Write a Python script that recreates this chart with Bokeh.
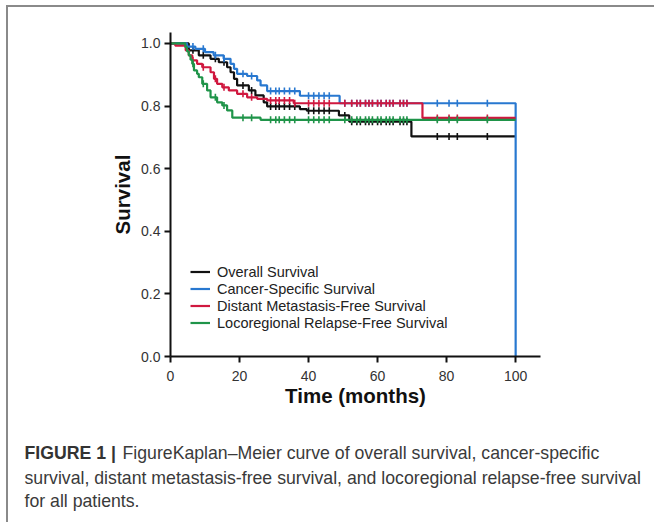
import numpy as np
from bokeh.plotting import figure
from bokeh.layouts import column, row
from bokeh.models import Range1d, Label, Legend, LegendItem, FixedTicker, NumeralTickFormatter, Spacer
from bokeh.embed import file_html
from bokeh.resources import INLINE

# ---------------- data ----------------
os_t = [0, 5.3, 8.2, 11.6, 14.0, 16.4, 17.4, 18.4, 19.3, 22.7, 24.6, 27.0, 28.0, 37.5, 39.5, 48.8, 51.8, 69.8, 100]
os_s = [1.0, 0.978, 0.962, 0.951, 0.940, 0.924, 0.908, 0.887, 0.866, 0.850, 0.834, 0.812, 0.799, 0.790, 0.785, 0.770, 0.750, 0.703, 0.703]

css_t = [0, 4.8, 7.2, 10.0, 12.5, 15.4, 17.4, 18.4, 19.3, 22.2, 25.1, 26.1, 28.0, 37.5, 49.0, 100, 100]
css_s = [1.0, 0.990, 0.983, 0.972, 0.962, 0.951, 0.935, 0.919, 0.903, 0.896, 0.882, 0.866, 0.848, 0.833, 0.809, 0.809, 0.0]

dmfs_t = [0, 1.4, 4.4, 5.3, 6.3, 7.7, 9.2, 11.6, 12.6, 13.5, 15.0, 16.9, 19.3, 22.2, 25.1, 28.0, 35.7, 73.0, 100]
dmfs_s = [1.0, 0.993, 0.978, 0.962, 0.946, 0.935, 0.924, 0.908, 0.887, 0.871, 0.860, 0.850, 0.839, 0.828, 0.823, 0.818, 0.809, 0.762, 0.762]

lrfs_t = [0, 4.3, 4.8, 5.3, 5.8, 6.3, 6.8, 7.7, 8.2, 9.2, 10.6, 11.6, 13.5, 15.0, 16.4, 17.9, 26.1, 100]
lrfs_s = [1.0, 0.988, 0.975, 0.962, 0.948, 0.935, 0.914, 0.903, 0.892, 0.871, 0.850, 0.828, 0.812, 0.802, 0.786, 0.763, 0.756, 0.756]

censor_times = [6.5, 9.5, 13, 15.5, 21, 23.5, 29, 30.5, 31.5, 33, 34.5, 36, 40, 41.5, 43, 44.5, 46, 50.5,
                52.5, 54, 55, 56.5, 57.5, 58.5, 60, 61, 62.5, 63.5, 64.5, 66.5, 67.5, 68.5, 77.3, 80.7, 83.1, 91.8]

series_names = ["Overall Survival", "Cancer-Specific Survival",
                "Distant Metastasis-Free Survival", "Locoregional Relapse-Free Survival"]
series_colors = ["#111111", "#2878d0", "#d0183f", "#1f9449"]

x_ticks = [0, 20, 40, 60, 80, 100]
y_ticks = [0.0, 0.2, 0.4, 0.6, 0.8, 1.0]

caption_bold = "FIGURE 1 |"
caption_lines = ["FigureKaplan\u2013Meier curve of overall survival, cancer-specific",
                 "survival, distant metastasis-free survival, and locoregional relapse-free survival",
                 "for all patients."]

W = 644
# ---------------- main chart ----------------
p = figure(width=W, height=415, output_backend="svg", toolbar_location=None,
           x_range=Range1d(0, 107.2), y_range=Range1d(0, 1.035),
           min_border_left=162, min_border_right=W - 162 - 370, min_border_top=25, min_border_bottom=66)
p.frame_align = False
p.outline_line_color = None
p.grid.visible = False
p.background_fill_color = "white"
p.border_fill_color = "white"

for ax in (p.xaxis[0], p.yaxis[0]):
    ax.axis_line_width = 2
    ax.axis_line_color = "#111111"
    ax.major_tick_line_width = 2
    ax.major_tick_line_color = "#111111"
    ax.major_tick_out = 6
    ax.major_tick_in = 0
    ax.minor_tick_line_color = None
    ax.major_label_text_font = "Liberation Sans"
    ax.major_label_text_font_size = "14px"
    ax.major_label_text_color = "#333333"
    ax.axis_label_text_font = "Liberation Sans"
    ax.axis_label_text_font_size = "20.5px"
    ax.axis_label_text_font_style = "bold"
    ax.axis_label_text_color = "#111111"

p.xaxis.ticker = FixedTicker(ticks=x_ticks)
p.yaxis.ticker = FixedTicker(ticks=y_ticks)
p.yaxis.formatter = NumeralTickFormatter(format="0.0")
p.xaxis.axis_label = "Time (months)"
p.yaxis.axis_label = "Survival"
p.xaxis.major_label_standoff = 8
p.xaxis.axis_label_standoff = 0
p.yaxis.major_label_standoff = 4
p.yaxis.axis_label_standoff = 4


def step_value(ts, ss, cs):
    ts = np.asarray(ts, dtype=float)
    ss = np.asarray(ss, dtype=float)
    idx = np.searchsorted(ts, np.asarray(cs, dtype=float), side="right") - 1
    return ss[idx]


all_series = [(os_t, os_s), (css_t, css_s), (dmfs_t, dmfs_s), (lrfs_t, lrfs_s)]
renderers = []
for i, (ts, ss) in enumerate(all_series):
    col = series_colors[i]
    r = p.step(x=ts, y=ss, mode="after", line_color=col, line_width=2.2)
    cy = step_value(ts, ss, censor_times)
    p.scatter(x=censor_times, y=cy, marker="dash", angle=np.pi / 2, size=7,
              line_color=col, line_width=1.6)
    renderers.append(r)

items = [LegendItem(label=series_names[i], renderers=[renderers[i]]) for i in range(4)]
legend = Legend(items=items, location=(20, 25), padding=0, margin=0, spacing=0,
                label_height=17, glyph_height=17, glyph_width=20, label_standoff=7,
                label_text_font="Liberation Sans", label_text_font_size="14.5px",
                label_text_color="#222222", background_fill_alpha=0, border_line_color=None)
p.add_layout(legend)

# ---------------- caption ----------------
cap = figure(width=W, height=100, output_backend="svg", toolbar_location=None,
             x_range=Range1d(0, W), y_range=Range1d(100, 0),
             min_border=0, min_border_left=0, min_border_right=0, min_border_top=0, min_border_bottom=0)
cap.frame_align = False
cap.axis.visible = False
cap.grid.visible = False
cap.outline_line_color = None
cap.border_fill_color = "white"

cap_x = 16
cap_y = [30, 55, 78]
cap.add_layout(Label(x=cap_x, y=cap_y[0], text=caption_bold, text_font="Liberation Sans",
                     text_font_size="17.7px", text_font_style="bold", text_color="#333333",
                     text_baseline="middle"))
cap.add_layout(Label(x=114, y=cap_y[0], text=caption_lines[0], text_font="Liberation Sans",
                     text_font_size="17.7px", text_color="#3a3a3a", text_baseline="middle"))
for k in (1, 2):
    cap.add_layout(Label(x=cap_x, y=cap_y[k], text=caption_lines[k], text_font="Liberation Sans",
                         text_font_size="17.7px", text_color="#3a3a3a", text_baseline="middle"))

# ---------------- frame of the figure panel (grey rule on top and left) ----------------
rule_top = Spacer(width=648, height=2, styles={"background-color": "#8a8a8a"})
rule_left = Spacer(width=2, height=515, styles={"background-color": "#8a8a8a"})

layout = column(
    Spacer(width=654, height=5),
    row(Spacer(width=6, height=2), rule_top),
    row(Spacer(width=6, height=515), rule_left, column(p, cap)),
)

open("out.html", "w").write(file_html(layout, INLINE))
